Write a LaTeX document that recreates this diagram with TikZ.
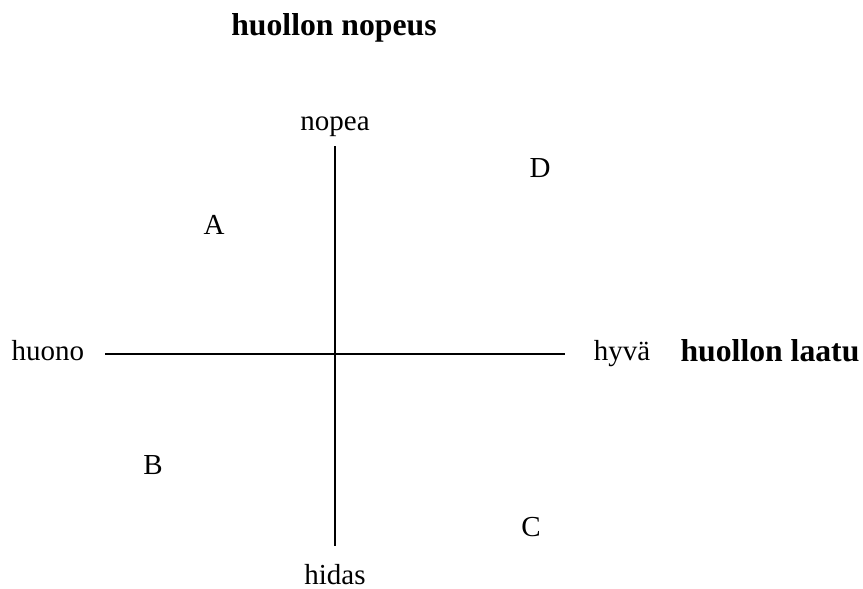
\documentclass[tikz,border=0pt]{standalone}
\usepackage{fontspec}
\setmainfont{Liberation Serif}
\begin{document}
\begin{tikzpicture}[x=1pt,y=-1pt,
  lbl/.style={anchor=base,inner sep=0pt,font=\fontsize{29}{32}\selectfont},
  ttl/.style={anchor=base,inner sep=0pt,font=\fontsize{31.7}{34}\selectfont\bfseries},
  axis/.style={line width=2pt}]
\useasboundingbox (0,0) rectangle (863,589);
\node[ttl] (title) at (334,35) {huollon nopeus};
\node[lbl] (nopea) at (335,130) {nopea};
\node[lbl] (hidas) at (335,584) {hidas};
\node[lbl] (huono) at (48,360) {huono};
\node[lbl] (hyva) at (622,360) {hyvä};
\node[ttl] (laatu) at (770,361) {huollon laatu};
\node[lbl] (A) at (214,234) {A};
\node[lbl] (B) at (153,474) {B};
\node[lbl] (C) at (531,536) {C};
\node[lbl] (D) at (540,177) {D};
\coordinate (top) at (335,146);
\coordinate (bot) at (335,546);
\coordinate (left) at (105,354);
\coordinate (right) at (565,354);
\draw[axis] (top) -- (bot);
\draw[axis] (left) -- (right);
\end{tikzpicture}
\end{document}
